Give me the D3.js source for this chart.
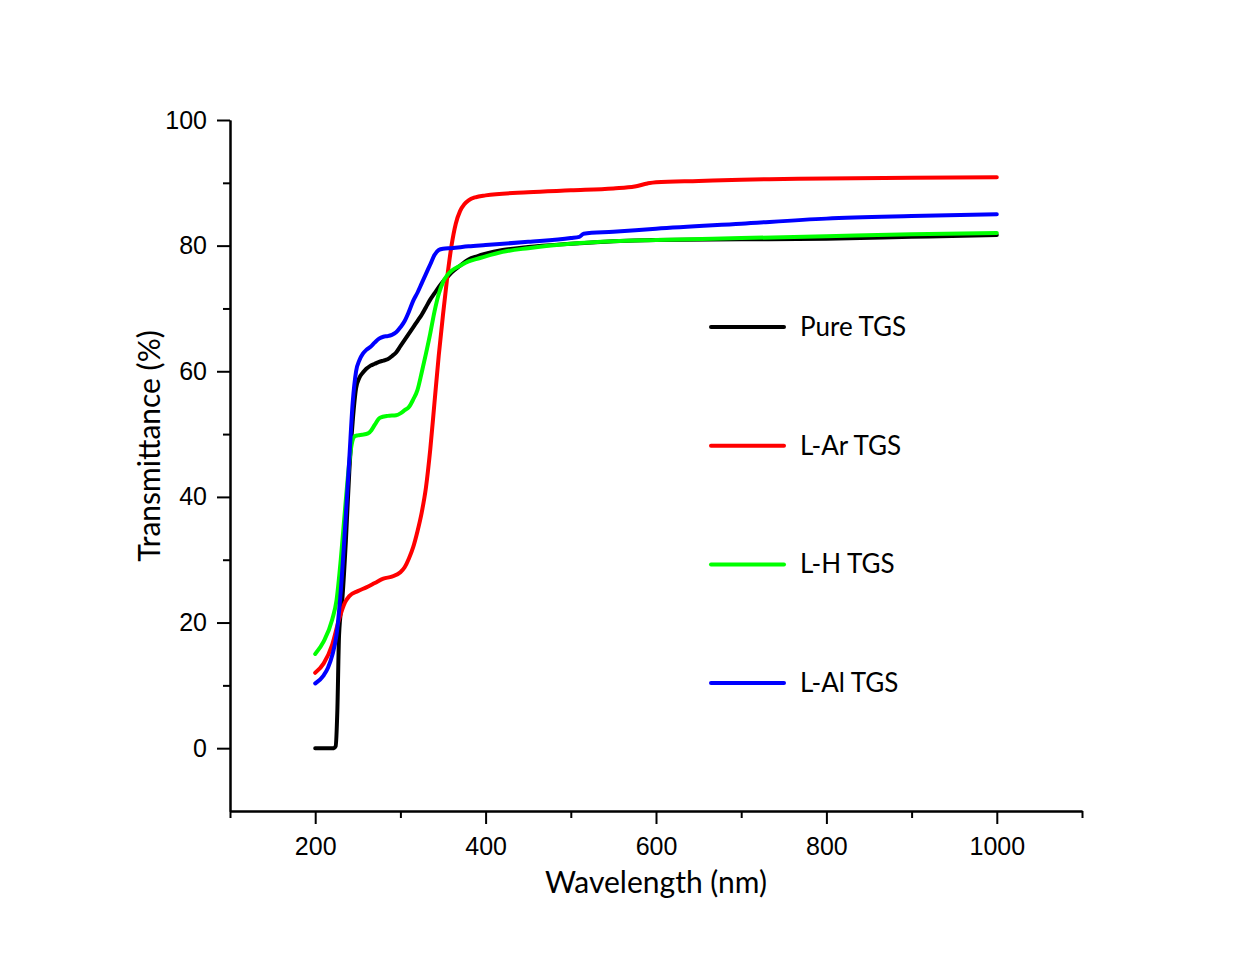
<!DOCTYPE html>
<html>
<head>
<meta charset="utf-8">
<script src="https://cdnjs.cloudflare.com/ajax/libs/d3/7.8.5/d3.min.js"></script>
<style>
  body { margin: 0; background: #fff; }
</style>
</head>
<body>
<script>
//Data: [wavelength (nm), transmittance (%)]
var pureTGS = [[200,0],[222,0],[224,0.3],[226,6],[228,18],[232,24],[236,33],[240,44],[244,52],[248,57.3],[252,59],[256,59.8],[260,60.4],[265,60.9],[270,61.2],[275,61.5],[280,61.7],[285,61.9],[290,62.4],[295,63],[300,64],[305,65],[310,66],[315,67],[320,68],[325,69],[330,70.2],[335,71.4],[340,72.4],[345,73.4],[350,74.3],[355,75],[360,75.7],[370,76.8],[380,77.8],[390,78.3],[400,78.7],[420,79.3],[450,79.8],[500,80.3],[550,80.7],[600,80.9],[700,81],[800,81.1],[900,81.4],[1000,81.7]];
var lArTGS = [[200,12],[210,13.5],[220,16.5],[228,20.5],[235,23.2],[240,24.2],[250,25],[260,25.6],[270,26.3],[280,27],[290,27.3],[300,28],[305,28.8],[310,30.2],[315,32],[320,34.5],[325,37.5],[330,41.5],[335,47.5],[340,55],[345,62.5],[350,69],[355,75],[360,80],[365,83.5],[370,85.5],[375,86.6],[380,87.2],[388,87.7],[400,88],[450,88.5],[500,88.8],[550,89.1],[575,89.4],[590,89.9],[600,90.1],[650,90.3],[700,90.5],[750,90.6],[800,90.7],[900,90.8],[1000,90.9]];
var lHTGS = [[200,15],[210,17],[220,20.5],[225,23.5],[230,30],[235,38],[240,45.5],[243,48.5],[246,49.6],[250,49.8],[255,49.9],[262,50.1],[266,50.6],[270,51.5],[276,52.6],[285,52.9],[295,53],[300,53.3],[305,53.8],[310,54.3],[315,55.5],[320,57],[325,59.8],[330,62.8],[335,66],[340,69.5],[345,72.3],[350,74.2],[355,75.3],[360,76],[370,76.8],[380,77.5],[390,77.9],[400,78.3],[420,79],[450,79.6],[500,80.3],[550,80.7],[600,80.9],[700,81.2],[800,81.5],[900,81.8],[1000,82]];
var lAlTGS = [[200,10.3],[210,11.6],[215,12.8],[220,14.8],[225,18],[230,25],[235,35],[240,46],[244,55],[248,60],[252,61.8],[256,62.8],[260,63.4],[265,63.9],[270,64.6],[275,65.2],[280,65.5],[285,65.6],[290,65.8],[295,66.2],[300,67],[305,68],[310,69.5],[315,71.2],[320,72.5],[325,74],[330,75.5],[335,77],[340,78.5],[345,79.3],[350,79.5],[360,79.6],[380,79.9],[400,80.1],[450,80.6],[500,81.2],[510,81.4],[515,81.9],[550,82.2],[600,82.7],[700,83.5],[800,84.3],[900,84.7],[1000,85]];

var seriesNames = ["Pure TGS", "L-Ar TGS", "L-H TGS", "L-Al TGS"];
var seriesColors = ["#000000", "#ff0000", "#00ff00", "#0000ff"];
var seriesData = [pureTGS, lArTGS, lHTGS, lAlTGS];

//Tick values
var xMajor = [200, 400, 600, 800, 1000];
var xMinor = [100, 300, 500, 700, 900, 1100];
var yMajor = [0, 20, 40, 60, 80, 100];
var yMinor = [10, 30, 50, 70, 90];

//Define main SVG
var svg = d3.select("body")
    .append("svg")
    .attr("width", 1244)
    .attr("height", 966);

svg.append("rect")
    .attr("width", 1244)
    .attr("height", 966)
    .attr("fill", "#fff");

//Define scales
var x = d3.scaleLinear()
    .domain([100, 1100])
    .range([230, 1082]);

var y = d3.scaleLinear()
    .domain([-10, 100])
    .range([811, 120]);

//Axes
svg.append("g")
    .attr("transform", "translate(0," + y(-10) + ")")
    .call(d3.axisBottom(x).tickValues(xMajor).tickSize(13).tickSizeOuter(0).tickPadding(13).tickFormat(d3.format("d")));

svg.append("g")
    .attr("transform", "translate(0," + y(-10) + ")")
    .call(d3.axisBottom(x).tickValues(xMinor).tickSize(7).tickSizeOuter(0).tickFormat(""));

svg.append("g")
    .attr("transform", "translate(" + x(100) + ",0)")
    .call(d3.axisLeft(y).tickValues(yMajor).tickSize(13).tickSizeOuter(0).tickPadding(10).tickFormat(d3.format("d")));

svg.append("g")
    .attr("transform", "translate(" + x(100) + ",0)")
    .call(d3.axisLeft(y).tickValues(yMinor).tickSize(7).tickSizeOuter(0).tickFormat(""));

svg.selectAll(".domain, .tick line")
    .attr("stroke", "#000")
    .attr("stroke-width", 2);

svg.selectAll(".tick text")
    .attr("fill", "#000")
    .style("font-family", "'Liberation Sans', Arial, sans-serif")
    .style("font-size", "25px");

//Axis titles
svg.append("text")
    .attr("x", 656)
    .attr("y", 893)
    .attr("text-anchor", "middle")
    .style("font-family", "Lato, 'Open Sans', sans-serif")
    .style("font-size", "30px")
    .text("Wavelength (nm)");

svg.append("text")
    .attr("transform", "translate(160,446) rotate(-90)")
    .attr("text-anchor", "middle")
    .style("font-family", "Lato, 'Open Sans', sans-serif")
    .style("font-size", "30px")
    .text("Transmittance (%)");

//Lines
var line = d3.line()
    .x(function(d) { return x(d[0]); })
    .y(function(d) { return y(d[1]); })
    .curve(d3.curveMonotoneX);

svg.append("g")
    .selectAll("path")
    .data(seriesData)
    .enter().append("path")
    .attr("d", line)
    .attr("fill", "none")
    .attr("stroke", function(d, i) { return seriesColors[i]; })
    .attr("stroke-width", 4)
    .attr("stroke-linejoin", "round")
    .attr("stroke-linecap", "round");

//Legend
var legend = svg.append("g")
    .selectAll("g")
    .data(seriesNames)
    .enter().append("g")
    .attr("transform", function(d, i) { return "translate(711," + (327 + i * 118.7) + ")"; });

legend.append("line")
    .attr("x1", 0)
    .attr("x2", 73)
    .attr("stroke", function(d, i) { return seriesColors[i]; })
    .attr("stroke-width", 4)
    .attr("stroke-linecap", "round");

legend.append("text")
    .attr("x", 89)
    .attr("y", 9)
    .style("font-family", "Lato, 'Open Sans', sans-serif")
    .style("font-size", "26px")
    .text(function(d) { return d; });
</script>
</body>
</html>
